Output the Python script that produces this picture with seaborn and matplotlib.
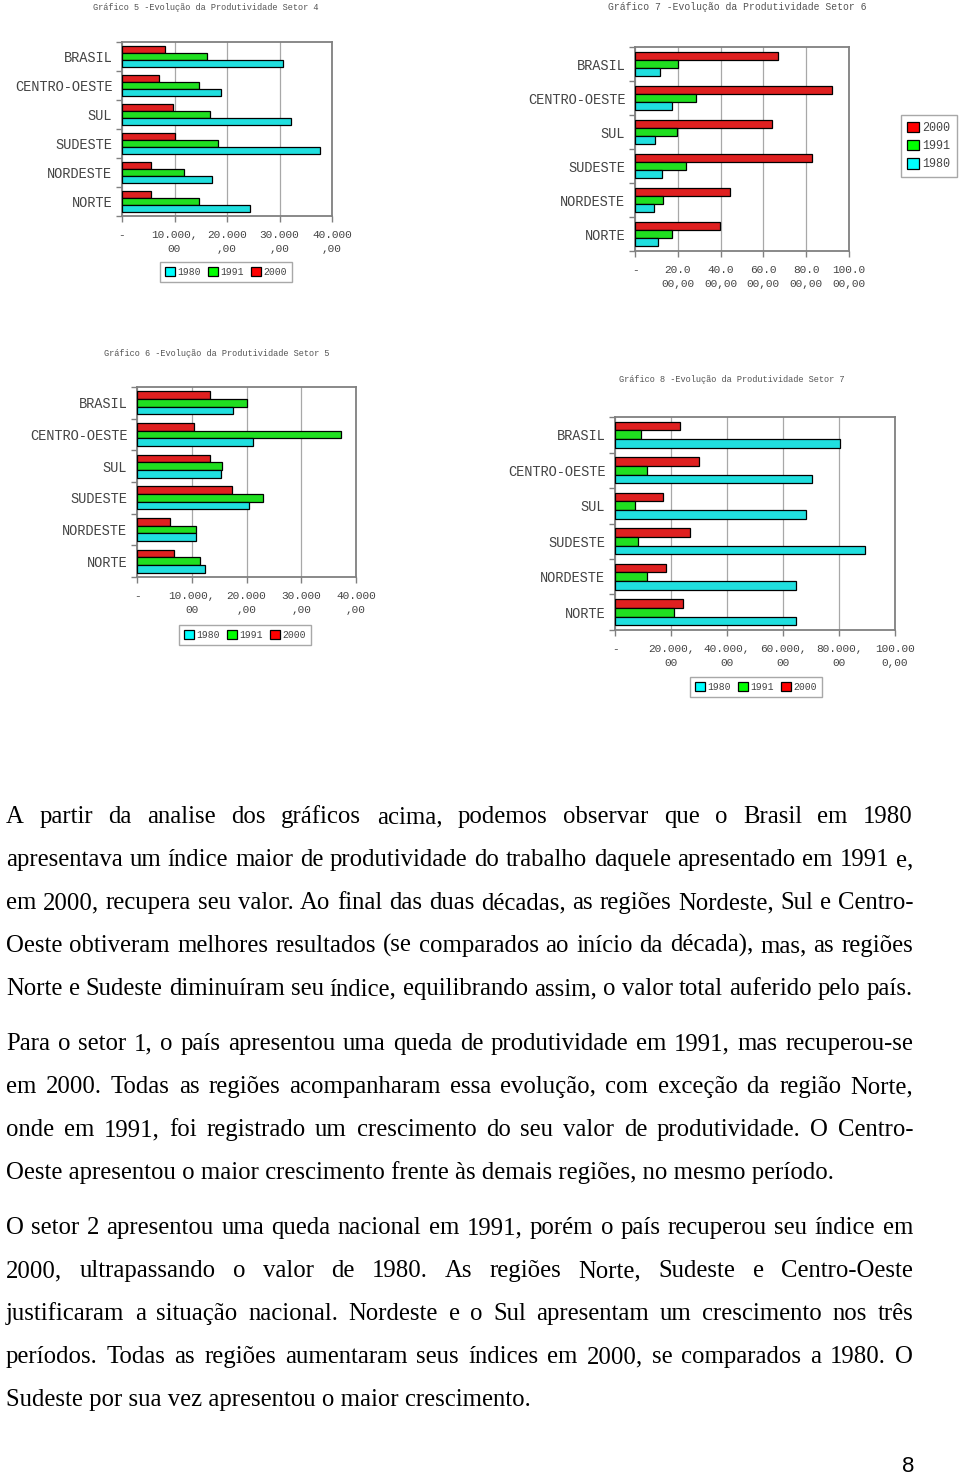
import matplotlib
matplotlib.use('Agg')
import matplotlib.pyplot as plt
from matplotlib.patches import Patch
import seaborn as sns
import pandas as pd
import numpy as np

sns.set_theme(style='white')
plt.rcParams['font.family'] = ['Liberation Mono', 'DejaVu Sans']

# ---------------- data ----------------
regions = ['BRASIL', 'CENTRO-OESTE', 'SUL', 'SUDESTE', 'NORDESTE', 'NORTE']
years = ['1980', '1991', '2000']

# Gráfico 5 - Setor 4
s4_1980 = [30670, 18820, 32130, 37700, 17050, 24460]
s4_1991 = [16220, 14700, 16730, 18250, 11720, 14700]
s4_2000 = [8240, 7100, 9760, 10010, 5580, 5580]

# Gráfico 7 - Setor 6
s6_1980 = [11680, 17450, 9500, 12460, 8720, 10900]
s6_1991 = [20250, 28350, 19630, 23990, 13080, 17450]
s6_2000 = [66820, 92210, 63860, 82710, 44390, 39880]

# Gráfico 6 - Setor 5
s5_1980 = [17590, 21250, 15270, 20400, 10750, 12460]
s5_1991 = [20090, 37190, 15570, 22960, 10690, 11540]
s5_2000 = [13310, 10440, 13310, 17340, 5980, 6780]

# Gráfico 8 - Setor 7
s7_1980 = [80240, 70240, 68100, 89170, 64760, 64760]
s7_1991 = [9400, 11430, 7260, 8210, 11430, 20950]
s7_2000 = [23330, 30000, 17260, 26670, 18210, 24400]

ticks_40k = [0, 10000, 20000, 30000, 40000]
labels_40k = ['-', '10.000,\n00', '20.000\n,00', '30.000\n,00', '40.000\n,00']
ticks_100k = [0, 20000, 40000, 60000, 80000, 100000]
labels_s6 = ['-', '20.0\n00,00', '40.0\n00,00', '60.0\n00,00', '80.0\n00,00', '100.0\n00,00']
labels_s7 = ['-', '20.000,\n00', '40.000,\n00', '60.000,\n00', '80.000,\n00', '100.00\n0,00']

title5 = 'Gráfico 5 -Evolução da Produtividade Setor 4'
title7 = 'Gráfico 7 -Evolução da Produtividade Setor 6'
title6 = 'Gráfico 6 -Evolução da Produtividade Setor 5'
title8 = 'Gráfico 8 -Evolução da Produtividade Setor 7'

paragraphs = [
    ['A partir da analise dos gráficos acima, podemos observar que o Brasil em 1980',
     'apresentava um índice maior de produtividade do trabalho daquele apresentado em 1991 e,',
     'em 2000, recupera seu valor. Ao final das duas décadas, as regiões Nordeste, Sul e Centro-',
     'Oeste obtiveram melhores resultados (se comparados ao início da década), mas, as regiões',
     'Norte e Sudeste diminuíram seu índice, equilibrando assim, o valor total auferido pelo país.'],
    ['Para o setor 1, o país apresentou uma queda de produtividade em 1991, mas recuperou-se',
     'em 2000. Todas as regiões acompanharam essa evolução, com exceção da região Norte,',
     'onde em 1991, foi registrado um crescimento do seu valor de produtividade. O Centro-',
     'Oeste apresentou o maior crescimento frente às demais regiões, no mesmo período.'],
    ['O setor 2 apresentou uma queda nacional em 1991, porém o país recuperou seu índice em',
     '2000, ultrapassando o valor de 1980. As regiões Norte, Sudeste e Centro-Oeste',
     'justificaram a situação nacional. Nordeste e o Sul apresentam um crescimento nos três',
     'períodos. Todas as regiões aumentaram seus índices em 2000, se comparados a 1980. O',
     'Sudeste por sua vez apresentou o maior crescimento.'],
]
page_number = '8'

# ---------------- figure ----------------
W, H = 960, 1478
fig = plt.figure(figsize=(W / 100, H / 100), dpi=100)
fig.patch.set_facecolor('white')
pal = {'1980': '#00FFFF', '1991': '#00FF00', '2000': '#FF0000'}
TXT = '#444444'


def px_rect(x0, y0, x1, y1):
    return [x0 / W, 1 - y1 / H, (x1 - x0) / W, (y1 - y0) / H]


def draw_chart(rect, v80, v91, v00, ticks, ticklabels, title, title_xy, title_fs,
               leg_xy, leg_order, leg_ncol, leg_fs):
    ax = fig.add_axes(px_rect(*rect))
    df = pd.DataFrame({
        'region': regions * 3,
        'year': ['1980'] * 6 + ['1991'] * 6 + ['2000'] * 6,
        'value': v80 + v91 + v00,
    })
    sns.barplot(data=df, x='value', y='region', hue='year', order=regions,
                hue_order=['2000', '1991', '1980'], palette=pal, orient='h',
                width=0.72, gap=0, edgecolor='black', linewidth=0.9,
                legend=False, errorbar=None, ax=ax, zorder=3)
    ax.set_xlim(0, ticks[-1])
    ax.set_ylim(5.5, -0.5)
    ax.set_xlabel('')
    ax.set_ylabel('')
    ax.set_xticks(ticks)
    ax.set_xticklabels(ticklabels, fontsize=8, color=TXT, linespacing=1.55)
    ax.xaxis.grid(True, color='#a8a8a8', linewidth=0.9)
    ax.yaxis.grid(False)
    ax.set_axisbelow(True)
    ax.set_yticks(range(6))
    ax.set_yticklabels(regions, fontsize=9.8, color=TXT)
    ax.set_yticks(np.arange(-0.5, 6.0, 1.0), minor=True)
    ax.tick_params(axis='y', which='major', length=0, pad=7, left=False)
    ax.tick_params(axis='y', which='minor', length=4, color='#808080', left=True, width=1)
    ax.tick_params(axis='x', which='major', length=4, color='#808080', bottom=True, pad=6, width=1)
    for s in ax.spines.values():
        s.set_color('#808080')
        s.set_linewidth(1.3)
        s.set_visible(True)
    fig.text(title_xy[0] / W, 1 - title_xy[1] / H, title, fontsize=title_fs,
             color='#555555', ha='center', va='center')
    handles = [Patch(facecolor=pal[y], edgecolor='black', linewidth=0.9) for y in leg_order]
    fig.legend(handles, leg_order, loc='center',
               bbox_to_anchor=(leg_xy[0] / W, 1 - leg_xy[1] / H), ncol=leg_ncol,
               frameon=True, fancybox=False, edgecolor='#a8a8a8', framealpha=1,
               fontsize=leg_fs, labelcolor=TXT, handlelength=1.0, handleheight=1.0,
               handletextpad=0.3, columnspacing=0.7, borderpad=0.55, labelspacing=0.5)
    return ax


draw_chart((122, 42, 332, 216), s4_1980, s4_1991, s4_2000, ticks_40k, labels_40k,
           title5, (206, 8), 6.2, (226, 272), ['1980', '1991', '2000'], 3, 7)
draw_chart((635, 47, 849, 251), s6_1980, s6_1991, s6_2000, ticks_100k, labels_s6,
           title7, (737, 7), 7.0, (929, 146), ['2000', '1991', '1980'], 1, 8.5)
draw_chart((137, 387, 356, 577), s5_1980, s5_1991, s5_2000, ticks_40k, labels_40k,
           title6, (217, 353), 6.2, (245, 635), ['1980', '1991', '2000'], 3, 7)
draw_chart((615, 417, 895, 630), s7_1980, s7_1991, s7_2000, ticks_100k, labels_s7,
           title8, (732, 380), 6.2, (756, 687), ['1980', '1991', '2000'], 3, 7)

# ---------------- body text (justified word by word) ----------------
renderer = fig.canvas.get_renderer()
SERIF = 'Liberation Serif'
X0, X1 = 6, 913

probe = fig.text(0, 0, paragraphs[1][3], fontsize=17, family=SERIF)
w_probe = probe.get_window_extent(renderer).width
probe.remove()
FS = 17 * (831 - X0) / w_probe

baselines = [[823, 866, 909, 952, 995],
             [1050, 1093, 1136, 1179],
             [1234, 1277, 1320, 1363, 1406]]

for para, bls in zip(paragraphs, baselines):
    for i, (line, yb) in enumerate(zip(para, bls)):
        last = (i == len(para) - 1)
        y = 1 - yb / H
        justify = not last or (para is paragraphs[0])
        if not justify:
            fig.text(X0 / W, y, line, fontsize=FS, family=SERIF, color='black',
                     ha='left', va='baseline')
            continue
        words = line.split(' ')
        arts = [fig.text(0, y, wd, fontsize=FS, family=SERIF, color='black',
                         ha='left', va='baseline') for wd in words]
        widths = [a.get_window_extent(renderer).width for a in arts]
        gap = (X1 - X0 - sum(widths)) / (len(words) - 1)
        x = X0
        for a, wd in zip(arts, widths):
            a.set_position((x / W, y))
            x += wd + gap

fig.text(908 / W, 1 - 1467 / H, page_number, fontsize=16, family='Liberation Sans',
         color='black', ha='center', va='center')

fig.savefig('out.png', dpi=100, facecolor='white')
